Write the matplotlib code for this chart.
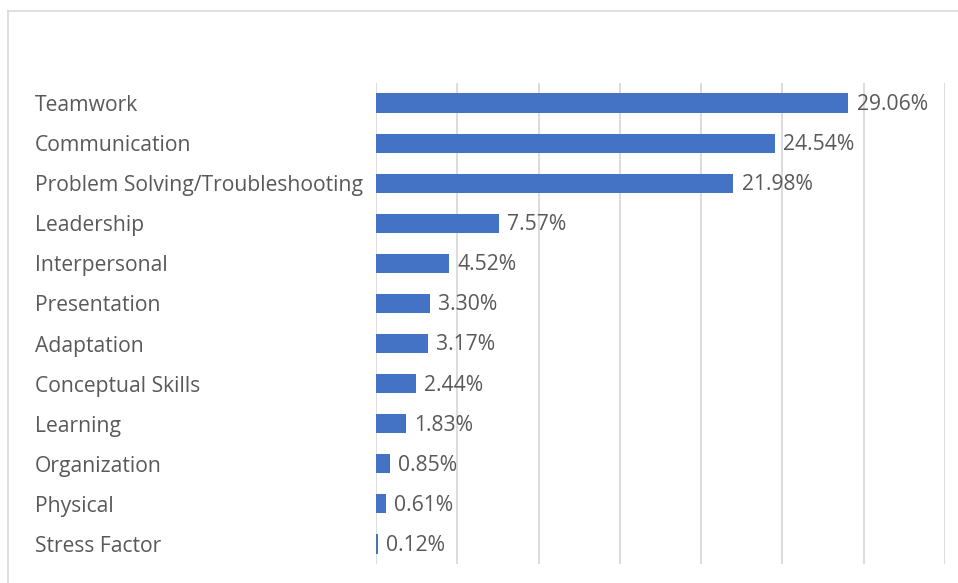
import matplotlib.pyplot as plt
from matplotlib.lines import Line2D

skills = ["Teamwork", "Communication", "Problem Solving/Troubleshooting",
          "Leadership", "Interpersonal", "Presentation", "Adaptation",
          "Conceptual Skills", "Learning", "Organization", "Physical",
          "Stress Factor"]
shares = [29.06, 24.54, 21.98, 7.57, 4.52, 3.30, 3.17, 2.44, 1.83, 0.85, 0.61, 0.12]

W, H = 958, 583
fig = plt.figure(figsize=(W / 100, H / 100), dpi=100)
plt.rcParams['font.family'] = ['Open Sans', 'DejaVu Sans']
text_col = "#595959"
grid_col = "#d9d9d9"

# plot area in pixel terms
left, right, top, bottom = 376, 945, 83, 564
ax = fig.add_axes([left / W, 1 - bottom / H, (right - left) / W, (bottom - top) / H])

y = list(range(len(skills)))
ax.barh(y, shares, height=0.48, color="#4472C4", zorder=3)
ax.set_ylim(len(skills) - 0.5, -0.5)
ax.set_xlim(0, 35)
ax.set_xticks(range(0, 36, 5))
ax.xaxis.grid(True, color=grid_col, linewidth=1.3, zorder=0)
ax.tick_params(axis='x', length=0, labelbottom=False)

ax.set_yticks(y)
ax.set_yticklabels(skills, ha='left', color=text_col, fontsize=15.2)
ax.tick_params(axis='y', length=0, pad=(left - 35) * 0.72)

for s in ax.spines.values():
    s.set_visible(False)

for yi, v in zip(y, shares):
    ax.annotate(f"{v:.2f}%", (v, yi), xytext=(6, -1), textcoords='offset points',
                va='center', ha='left', color=text_col, fontsize=15.2)

# chart frame (top and left edges)
fig.add_artist(Line2D([8 / W, 1], [1 - 11 / H, 1 - 11 / H], color=grid_col, lw=1.2))
fig.add_artist(Line2D([8 / W, 8 / W], [0, 1 - 11 / H], color=grid_col, lw=1.2))

fig.savefig("out.png", dpi=100)
